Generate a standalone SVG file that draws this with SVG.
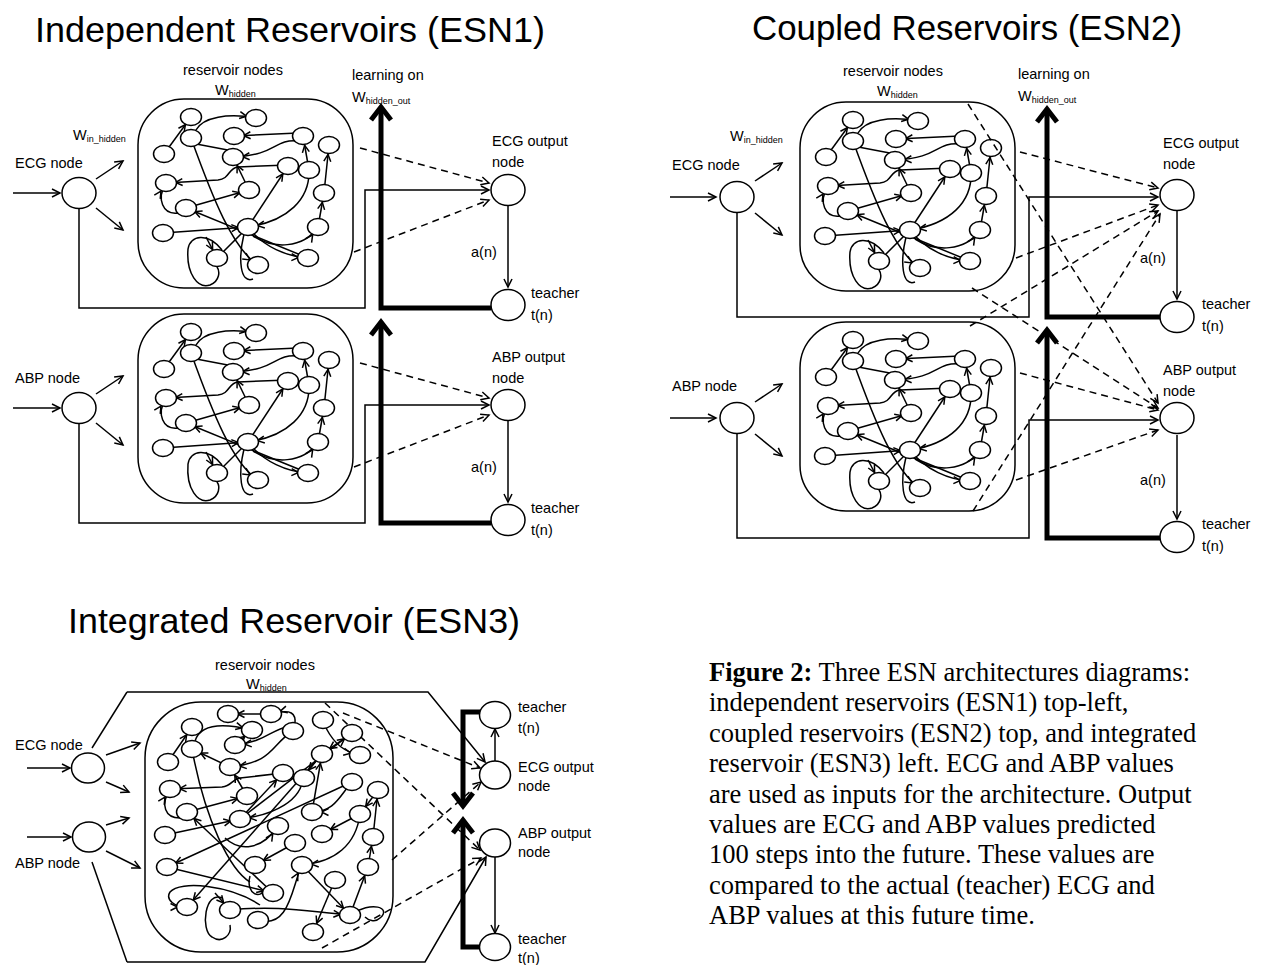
<svg xmlns="http://www.w3.org/2000/svg" xmlns:xlink="http://www.w3.org/1999/xlink" width="1263" height="965" viewBox="0 0 1263 965">
<style>
.t{font-family:"Liberation Sans",Arial,sans-serif;font-size:14.5px;fill:#000}
.s{font-size:9px}
.ti{font-family:"Liberation Sans",Arial,sans-serif;font-size:35px;fill:#000}
.cap{font-family:"Liberation Serif","Times New Roman",serif;font-size:26.5px;fill:#000}
.ln{fill:none;stroke:#000;stroke-width:1.5}
.e{fill:none;stroke:#000;stroke-width:1.5;marker-end:url(#an)}
.a{fill:none;stroke:#000;stroke-width:1.5;marker-end:url(#ah)}
.d{fill:none;stroke:#000;stroke-width:1.5;stroke-dasharray:7 5;marker-end:url(#ah)}
.k{fill:none;stroke:#000;stroke-width:5;marker-end:url(#thk)}
.nd{fill:#fff;stroke:#000;stroke-width:1.5}
.bx{fill:none;stroke:#000;stroke-width:1.5}
</style>
<defs>
<marker id="ah" viewBox="-12 -7 14 14" markerWidth="14" markerHeight="14" markerUnits="userSpaceOnUse" refX="0" refY="0" orient="auto"><path d="M-8,-4 L0,0 L-8,4" fill="none" stroke="#000" stroke-width="1.5"/></marker>
<marker id="an" viewBox="-12 -7 26 14" markerWidth="26" markerHeight="14" markerUnits="userSpaceOnUse" refX="9.5" refY="0" orient="auto"><path d="M-7,-3.5 L0,0 L-7,3.5" fill="none" stroke="#000" stroke-width="1.5"/></marker>
<marker id="thk" viewBox="-18 -14 24 28" markerWidth="24" markerHeight="28" markerUnits="userSpaceOnUse" refX="0" refY="0" orient="auto"><path d="M-13,-10 L0,0 L-13,10" fill="none" stroke="#000" stroke-width="5"/></marker>
<g id="resv">
<rect class="bx" x="0" y="0" width="215" height="189" rx="46"/>
<path class="e" d="M26,55 L53,18"/>
<path class="e" d="M58,31 C65,18 90,14 118,19"/>
<path class="e" d="M160,34 L96,37"/>
<path class="e" d="M160,42 C135,40 140,56 95,58"/>
<path class="ln" d="M53,44 L95,52"/>
<path class="e" d="M53,39 C75,100 95,150 120,166"/>
<path class="e" d="M150,66 L100,68 C90,69 92,80 80,81 L28,84"/>
<path class="e" d="M111,91 L95,58"/>
<path class="e" d="M48,109 L111,91"/>
<path class="e" d="M25,134 L110,128"/>
<path class="e" d="M110,128 L150,67"/>
<path class="e" d="M171,71 C172,100 150,122 110,128"/>
<path class="e" d="M186,94 L191,46"/>
<path class="e" d="M180,128 L186,94"/>
<path class="e" d="M171,71 L165,37"/>
<path class="e" d="M40,114 C25,116 18,100 28,84"/>
<path class="e" d="M170,159 L48,109"/>
<path class="e" d="M110,128 C125,148 150,158 170,159"/>
<path class="e" d="M115,137 C135,150 165,150 180,128"/>
<path class="ln" d="M84,151 C70,133 52,136 50,150 C48,175 60,190 72,186 C82,182 82,172 79,168"/>
<path class="e" d="M68,138 L79,159"/>
<path class="ln" d="M106,135 C100,160 102,185 115,180"/>
<path class="ln" d="M110,128 L79,159"/>
<ellipse class="nd" cx="53" cy="18" rx="10.5" ry="8.5"/>
<ellipse class="nd" cx="118" cy="19" rx="10.5" ry="8.5"/>
<ellipse class="nd" cx="53" cy="39" rx="10.5" ry="8.5"/>
<ellipse class="nd" cx="96" cy="37" rx="10.5" ry="8.5"/>
<ellipse class="nd" cx="165" cy="37" rx="10.5" ry="8.5"/>
<ellipse class="nd" cx="191" cy="46" rx="10.5" ry="8.5"/>
<ellipse class="nd" cx="26" cy="55" rx="10.5" ry="8.5"/>
<ellipse class="nd" cx="95" cy="58" rx="10.5" ry="8.5"/>
<ellipse class="nd" cx="150" cy="67" rx="10.5" ry="8.5"/>
<ellipse class="nd" cx="171" cy="71" rx="10.5" ry="8.5"/>
<ellipse class="nd" cx="28" cy="84" rx="10.5" ry="8.5"/>
<ellipse class="nd" cx="111" cy="91" rx="10.5" ry="8.5"/>
<ellipse class="nd" cx="186" cy="94" rx="10.5" ry="8.5"/>
<ellipse class="nd" cx="48" cy="109" rx="10.5" ry="8.5"/>
<ellipse class="nd" cx="25" cy="134" rx="10.5" ry="8.5"/>
<ellipse class="nd" cx="110" cy="128" rx="10.5" ry="8.5"/>
<ellipse class="nd" cx="180" cy="128" rx="10.5" ry="8.5"/>
<ellipse class="nd" cx="79" cy="159" rx="10.5" ry="8.5"/>
<ellipse class="nd" cx="120" cy="166" rx="10.5" ry="8.5"/>
<ellipse class="nd" cx="170" cy="159" rx="10.5" ry="8.5"/>
</g>
</defs>

<!-- titles and labels -->
<g id="labels">
<text class="ti" x="35" y="42" textLength="510" lengthAdjust="spacingAndGlyphs">Independent Reservoirs (ESN1)</text>
<text class="ti" x="752" y="40" textLength="430" lengthAdjust="spacingAndGlyphs">Coupled Reservoirs (ESN2)</text>
<text class="ti" x="68" y="633" textLength="452" lengthAdjust="spacingAndGlyphs">Integrated Reservoir (ESN3)</text>

<text class="t" x="183" y="75">reservoir nodes</text>
<text class="t" x="215" y="95">W<tspan class="s" dy="2">hidden</tspan></text>
<text class="t" x="352" y="80">learning on</text>
<text class="t" x="352" y="102">W<tspan class="s" dy="2">hidden_out</tspan></text>
<text class="t" x="73" y="140">W<tspan class="s" dy="2">in_hidden</tspan></text>
<text class="t" x="15" y="168">ECG node</text>
<text class="t" x="492" y="146">ECG output</text>
<text class="t" x="492" y="167">node</text>
<text class="t" x="471" y="257">a(n)</text>
<text class="t" x="531" y="298">teacher</text>
<text class="t" x="531" y="320">t(n)</text>
<text class="t" x="15" y="383">ABP node</text>
<text class="t" x="492" y="362">ABP output</text>
<text class="t" x="492" y="383">node</text>
<text class="t" x="471" y="472">a(n)</text>
<text class="t" x="531" y="513">teacher</text>
<text class="t" x="531" y="535">t(n)</text>

<text class="t" x="843" y="76">reservoir nodes</text>
<text class="t" x="877" y="96">W<tspan class="s" dy="2">hidden</tspan></text>
<text class="t" x="1018" y="79">learning on</text>
<text class="t" x="1018" y="101">W<tspan class="s" dy="2">hidden_out</tspan></text>
<text class="t" x="730" y="141">W<tspan class="s" dy="2">in_hidden</tspan></text>
<text class="t" x="672" y="170">ECG node</text>
<text class="t" x="1163" y="148">ECG output</text>
<text class="t" x="1163" y="169">node</text>
<text class="t" x="1140" y="263">a(n)</text>
<text class="t" x="1202" y="309">teacher</text>
<text class="t" x="1202" y="331">t(n)</text>
<text class="t" x="672" y="391">ABP node</text>
<text class="t" x="1163" y="375">ABP output</text>
<text class="t" x="1163" y="396">node</text>
<text class="t" x="1140" y="485">a(n)</text>
<text class="t" x="1202" y="529">teacher</text>
<text class="t" x="1202" y="551">t(n)</text>

<text class="t" x="215" y="670">reservoir nodes</text>
<text class="t" x="246" y="689">W<tspan class="s" dy="2">hidden</tspan></text>
<text class="t" x="15" y="750">ECG node</text>
<text class="t" x="15" y="868">ABP node</text>
<text class="t" x="518" y="712">teacher</text>
<text class="t" x="518" y="733">t(n)</text>
<text class="t" x="518" y="772">ECG output</text>
<text class="t" x="518" y="791">node</text>
<text class="t" x="518" y="838">ABP output</text>
<text class="t" x="518" y="857">node</text>
<text class="t" x="518" y="944">teacher</text>
<text class="t" x="518" y="963">t(n)</text>
</g>

<g id="caption">
<text class="cap" x="709" y="681"><tspan font-weight="bold">Figure 2:</tspan> Three ESN architectures diagrams:</text>
<text class="cap" x="709" y="711">independent reservoirs (ESN1) top-left,</text>
<text class="cap" x="709" y="742">coupled reservoirs (ESN2) top, and integrated</text>
<text class="cap" x="709" y="772">reservoir (ESN3) left. ECG and ABP values</text>
<text class="cap" x="709" y="803">are used as inputs for the architecture. Output</text>
<text class="cap" x="709" y="833">values are ECG and ABP values predicted</text>
<text class="cap" x="709" y="863">100 steps into the future. These values are</text>
<text class="cap" x="709" y="894">compared to the actual (teacher) ECG and</text>
<text class="cap" x="709" y="924">ABP values at this future time.</text>
</g>

<!-- reservoirs -->
<g id="esn1-ecg-reservoir"><use xlink:href="#resv" href="#resv" transform="translate(138,99)"/></g>
<g id="esn1-abp-reservoir"><use xlink:href="#resv" href="#resv" transform="translate(138,314)"/></g>
<g id="esn2-ecg-reservoir"><use xlink:href="#resv" href="#resv" transform="translate(800,102)"/></g>
<g id="esn2-abp-reservoir"><use xlink:href="#resv" href="#resv" transform="translate(800,322)"/></g>

<!-- connectors -->
<g id="connectors">
<!-- ESN1 top -->
<path class="a" d="M13,193 L60,193"/>
<path class="a" d="M96,179 L123,161"/>
<path class="a" d="M96,208 L123,230"/>
<path class="a" d="M79,209 L79,308 L365,308 L365,190 L489,190"/>
<path class="k" d="M491,308 L381,308 L381,107"/>
<path class="a" d="M508,206 L508,287"/>
<path class="d" d="M360,148 L489,183"/>
<path class="d" d="M354,252 L489,200"/>
<!-- ESN1 bottom -->
<path class="a" d="M13,408 L60,408"/>
<path class="a" d="M96,394 L123,376"/>
<path class="a" d="M96,423 L123,445"/>
<path class="a" d="M79,424 L79,523 L365,523 L365,405 L489,405"/>
<path class="k" d="M491,523 L381,523 L381,322"/>
<path class="a" d="M508,421 L508,502"/>
<path class="d" d="M360,363 L489,398"/>
<path class="d" d="M354,467 L489,415"/>
<!-- ESN2 top -->
<path class="a" d="M670,197 L716,197"/>
<path class="a" d="M755,181 L782,163"/>
<path class="a" d="M755,213 L782,235"/>
<path class="a" d="M737,213 L737,317 L1029,317 L1029,197 L1158,197"/>
<path class="k" d="M1160,317 L1047,317 L1047,109"/>
<path class="a" d="M1177,211 L1177,299"/>
<path class="d" d="M1020,152 L1158,188"/>
<path class="d" d="M1016,258 L1158,205"/>
<path class="d" d="M968,104 L1158,403"/>
<path class="d" d="M972,288 L1158,408"/>
<!-- ESN2 bottom -->
<path class="a" d="M670,418 L716,418"/>
<path class="a" d="M755,402 L782,384"/>
<path class="a" d="M755,434 L782,456"/>
<path class="a" d="M737,434 L737,538 L1029,538 L1029,420 L1158,420"/>
<path class="k" d="M1160,538 L1047,538 L1047,330"/>
<path class="a" d="M1177,435 L1177,519"/>
<path class="d" d="M1020,373 L1158,410"/>
<path class="d" d="M1016,480 L1158,430"/>
<path class="d" d="M970,326 L1158,211"/>
<path class="d" d="M973,511 L1160,214"/>
<!-- ESN3 -->
<path class="a" d="M27,768 L70,768"/>
<path class="a" d="M27,837 L71,837"/>
<path class="a" d="M106,755 L140,743"/>
<path class="a" d="M106,782 L129,792"/>
<path class="a" d="M106,825 L129,818"/>
<path class="a" d="M106,851 L140,868"/>
<path class="ln" d="M127,692 L92,748"/>
<path class="ln" d="M92,862 L127,962"/>
<path class="a" d="M127,692 L428,692 L485,762"/>
<path class="a" d="M127,962 L425,962 L486,857"/>
<path class="k" d="M482,712 L463,712 L463,806"/>
<path class="k" d="M482,947 L463,947 L463,820"/>
<path class="a" d="M495,761 L495,729"/>
<path class="a" d="M495,857 L495,933"/>
<path class="d" d="M343,713 L480,768"/>
<path class="d" d="M325,703 L480,850"/>
<path class="d" d="M392,860 L481,782"/>
<path class="d" d="M322,948 L481,858"/>
</g>

<!-- ESN3 integrated reservoir -->
<g id="esn3-reservoir">
<rect class="bx" x="145" y="702" width="248" height="250" rx="56"/>
<path class="e" d="M271,714 L228,714"/>
<path class="e" d="M168,762 L192,727"/>
<path class="e" d="M195,741 C200,725 220,722 252,730"/>
<path class="e" d="M290,726 C270,730 265,742 235,745"/>
<path class="e" d="M295,724 C296,714 292,708 271,714"/>
<path class="e" d="M293,731 C270,745 275,762 230,767"/>
<path class="e" d="M230,767 L192,749"/>
<path class="ln" d="M192,749 C205,820 230,870 250,882"/>
<path class="e" d="M283,773 L240,778 C232,779 232,786 222,787 L170,789"/>
<path class="e" d="M247,796 L230,767"/>
<path class="e" d="M187,812 L247,796"/>
<path class="e" d="M180,818 C165,818 160,805 170,789"/>
<path class="e" d="M165,835 L240,819"/>
<path class="e" d="M240,819 L283,773"/>
<path class="e" d="M303,777 C302,800 275,815 240,819"/>
<path class="e" d="M352,782 L167,867"/>
<path class="e" d="M312,812 L322,754"/>
<path class="e" d="M167,867 L273,893"/>
<path class="e" d="M322,754 L187,907"/>
<path class="e" d="M225,838 C240,852 262,850 278,826"/>
<path class="e" d="M295,843 L255,865"/>
<path class="e" d="M360,814 C356,845 335,862 302,865"/>
<path class="e" d="M373,837 L378,790"/>
<path class="e" d="M368,867 L373,837"/>
<path class="e" d="M302,865 L350,915"/>
<path class="e" d="M350,915 L368,867"/>
<path class="e" d="M230,910 C280,905 310,912 350,915"/>
<path class="e" d="M335,880 L313,932"/>
<path class="ln" d="M222,898 C205,890 200,930 212,937 C222,944 232,935 230,925"/>
<path class="e" d="M215,893 L230,910"/>
<path class="ln" d="M250,876 C245,895 262,900 265,888"/>
<path class="e" d="M258,920 C290,930 292,885 302,865"/>
<path class="e" d="M260,905 C230,885 180,880 170,892 C165,900 175,907 187,907"/>
<path class="ln" d="M350,915 C372,900 392,908 380,918 C375,923 368,920 365,917"/>
<path class="e" d="M326,728 C335,745 345,752 360,755"/>
<path class="e" d="M352,733 L322,754"/>
<path class="e" d="M240,819 L352,733"/>
<path class="e" d="M352,782 C340,795 335,812 312,812"/>
<path class="e" d="M360,814 L322,834"/>
<path class="e" d="M378,790 L360,814"/>
<path class="e" d="M322,754 L303,777"/>
<path class="e" d="M235,745 L252,730"/>
<path class="e" d="M273,893 L187,812"/>
<ellipse class="nd" cx="228" cy="714" rx="10.5" ry="8.5"/>
<ellipse class="nd" cx="271" cy="714" rx="10.5" ry="8.5"/>
<ellipse class="nd" cx="192" cy="727" rx="10.5" ry="8.5"/>
<ellipse class="nd" cx="252" cy="730" rx="10.5" ry="8.5"/>
<ellipse class="nd" cx="293" cy="731" rx="10.5" ry="8.5"/>
<ellipse class="nd" cx="235" cy="745" rx="10.5" ry="8.5"/>
<ellipse class="nd" cx="192" cy="749" rx="10.5" ry="8.5"/>
<ellipse class="nd" cx="168" cy="762" rx="10.5" ry="8.5"/>
<ellipse class="nd" cx="230" cy="767" rx="10.5" ry="8.5"/>
<ellipse class="nd" cx="283" cy="773" rx="10.5" ry="8.5"/>
<ellipse class="nd" cx="304" cy="778" rx="10.5" ry="8.5"/>
<ellipse class="nd" cx="322" cy="754" rx="10.5" ry="8.5"/>
<ellipse class="nd" cx="323" cy="720" rx="10.5" ry="8.5"/>
<ellipse class="nd" cx="352" cy="733" rx="10.5" ry="8.5"/>
<ellipse class="nd" cx="360" cy="755" rx="10.5" ry="8.5"/>
<ellipse class="nd" cx="170" cy="789" rx="10.5" ry="8.5"/>
<ellipse class="nd" cx="247" cy="796" rx="10.5" ry="8.5"/>
<ellipse class="nd" cx="187" cy="812" rx="10.5" ry="8.5"/>
<ellipse class="nd" cx="240" cy="819" rx="10.5" ry="8.5"/>
<ellipse class="nd" cx="165" cy="835" rx="10.5" ry="8.5"/>
<ellipse class="nd" cx="278" cy="826" rx="10.5" ry="8.5"/>
<ellipse class="nd" cx="295" cy="843" rx="10.5" ry="8.5"/>
<ellipse class="nd" cx="312" cy="812" rx="10.5" ry="8.5"/>
<ellipse class="nd" cx="352" cy="782" rx="10.5" ry="8.5"/>
<ellipse class="nd" cx="378" cy="790" rx="10.5" ry="8.5"/>
<ellipse class="nd" cx="360" cy="814" rx="10.5" ry="8.5"/>
<ellipse class="nd" cx="322" cy="834" rx="10.5" ry="8.5"/>
<ellipse class="nd" cx="373" cy="837" rx="10.5" ry="8.5"/>
<ellipse class="nd" cx="167" cy="867" rx="10.5" ry="8.5"/>
<ellipse class="nd" cx="255" cy="865" rx="10.5" ry="8.5"/>
<ellipse class="nd" cx="302" cy="865" rx="10.5" ry="8.5"/>
<ellipse class="nd" cx="368" cy="867" rx="10.5" ry="8.5"/>
<ellipse class="nd" cx="335" cy="880" rx="10.5" ry="8.5"/>
<ellipse class="nd" cx="273" cy="893" rx="10.5" ry="8.5"/>
<ellipse class="nd" cx="187" cy="907" rx="10.5" ry="8.5"/>
<ellipse class="nd" cx="230" cy="910" rx="10.5" ry="8.5"/>
<ellipse class="nd" cx="258" cy="920" rx="10.5" ry="8.5"/>
<ellipse class="nd" cx="350" cy="915" rx="10.5" ry="8.5"/>
<ellipse class="nd" cx="313" cy="932" rx="10.5" ry="8.5"/>
</g>

<!-- main nodes -->
<g id="esn1-ecg-node"><ellipse class="nd" cx="79" cy="193" rx="17" ry="15.5"/></g>
<g id="esn1-ecg-output"><ellipse class="nd" cx="508" cy="190" rx="17" ry="15.5"/></g>
<g id="esn1-ecg-teacher"><ellipse class="nd" cx="508" cy="305" rx="17" ry="15.5"/></g>
<g id="esn1-abp-node"><ellipse class="nd" cx="79" cy="408" rx="17" ry="15.5"/></g>
<g id="esn1-abp-output"><ellipse class="nd" cx="508" cy="405" rx="17" ry="15.5"/></g>
<g id="esn1-abp-teacher"><ellipse class="nd" cx="508" cy="520" rx="17" ry="15.5"/></g>
<g id="esn2-ecg-node"><ellipse class="nd" cx="737" cy="197" rx="17" ry="15.5"/></g>
<g id="esn2-ecg-output"><ellipse class="nd" cx="1177" cy="195" rx="17" ry="15.5"/></g>
<g id="esn2-ecg-teacher"><ellipse class="nd" cx="1177" cy="317" rx="17" ry="15.5"/></g>
<g id="esn2-abp-node"><ellipse class="nd" cx="737" cy="418" rx="17" ry="15.5"/></g>
<g id="esn2-abp-output"><ellipse class="nd" cx="1177" cy="418" rx="17" ry="15.5"/></g>
<g id="esn2-abp-teacher"><ellipse class="nd" cx="1177" cy="537" rx="17" ry="15.5"/></g>
<g id="esn3-ecg-node"><ellipse class="nd" cx="88" cy="768" rx="16.5" ry="15"/></g>
<g id="esn3-abp-node"><ellipse class="nd" cx="89" cy="837" rx="16.5" ry="15"/></g>
<g id="esn3-ecg-teacher"><ellipse class="nd" cx="495" cy="715" rx="15.5" ry="13.5"/></g>
<g id="esn3-ecg-output"><ellipse class="nd" cx="495" cy="775" rx="15.5" ry="14"/></g>
<g id="esn3-abp-output"><ellipse class="nd" cx="495" cy="843" rx="15.5" ry="14"/></g>
<g id="esn3-abp-teacher"><ellipse class="nd" cx="495" cy="947" rx="15.5" ry="13.5"/></g>
</svg>
